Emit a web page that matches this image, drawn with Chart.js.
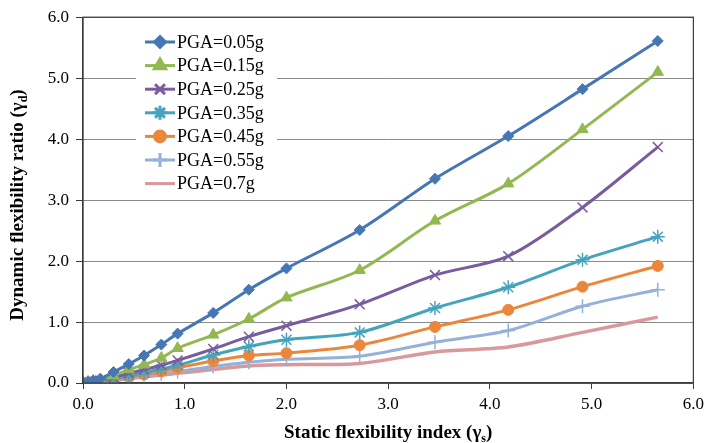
<!DOCTYPE html>
<html>
<head>
<meta charset="utf-8">
<script src="https://cdn.jsdelivr.net/npm/chart.js@4/dist/chart.umd.min.js"></script>
<style>
  body { margin: 0; background: #fff; }
  #box { width: 709px; height: 443px; position: relative; }
</style>
</head>
<body>
<div id="box"><canvas id="grafico"></canvas></div>
<script>
// indice de flexibilidade estatica (eixo x)
const indiceEstatico = [0, 0.05, 0.1, 0.17, 0.3, 0.45, 0.6, 0.77, 0.93, 1.28, 1.63, 2.0, 2.72, 3.46, 4.18, 4.91, 5.65];

// razao de flexibilidade dinamica por PGA
const pga005 = [0, 0.02, 0.04, 0.07, 0.18, 0.31, 0.45, 0.63, 0.81, 1.15, 1.53, 1.88, 2.51, 3.35, 4.05, 4.82, 5.61];
const pga015 = [0, 0.01, 0.03, 0.05, 0.12, 0.22, 0.3, 0.41, 0.57, 0.79, 1.05, 1.4, 1.85, 2.66, 3.27, 4.16, 5.1];
const pga025 = [0, 0.01, 0.02, 0.04, 0.09, 0.16, 0.22, 0.29, 0.37, 0.56, 0.76, 0.94, 1.29, 1.77, 2.08, 2.88, 3.87];
const pga035 = [0, 0.01, 0.02, 0.03, 0.07, 0.12, 0.17, 0.23, 0.29, 0.46, 0.6, 0.71, 0.83, 1.23, 1.57, 2.02, 2.4];
const pga045 = [0, 0.01, 0.02, 0.03, 0.06, 0.1, 0.14, 0.19, 0.25, 0.36, 0.45, 0.49, 0.62, 0.92, 1.2, 1.58, 1.92];
const pga055 = [0, 0, 0.01, 0.02, 0.05, 0.08, 0.11, 0.15, 0.19, 0.27, 0.34, 0.39, 0.44, 0.67, 0.86, 1.26, 1.53];
const pga070 = [0, 0, 0.01, 0.02, 0.04, 0.07, 0.1, 0.13, 0.16, 0.22, 0.28, 0.3, 0.32, 0.51, 0.59, 0.83, 1.08];

const rotulos = ['PGA=0.05g', 'PGA=0.15g', 'PGA=0.25g', 'PGA=0.35g', 'PGA=0.45g', 'PGA=0.55g', 'PGA=0.7g'];
const valoresEixo = [0, 1, 2, 3, 4, 5, 6];

const cores = ['#4677B4', '#93B84F', '#7A5C9E', '#45A4BD', '#EB873D', '#95B0D9', '#D9999A'];
const estilos = ['rectRot', 'triangle', 'crossRot', 'star', 'circle', 'cross', false];
const raios = [5.5, 6.5, 7, 7, 5.5, 7, 0];

const series = [pga005, pga015, pga025, pga035, pga045, pga055, pga070];

function montarSerie(valores, i) {
    const cruz = estilos[i] === 'crossRot' || estilos[i] === 'star' || estilos[i] === 'cross';
    return {
        label: rotulos[i],
        data: valores.map((v, k) => ({ x: indiceEstatico[k], y: v })),
        borderColor: cores[i],
        backgroundColor: cores[i],
        borderWidth: i === 6 ? 3.5 : 3,
        pointStyle: estilos[i],
        pointRadius: raios[i],
        pointBorderWidth: cruz ? 1.5 : 1,
        pointBorderColor: cores[i],
        pointBackgroundColor: cores[i],
        tension: 0.3,
        fill: false
    };
}

const fonte = "'Liberation Serif', 'Times New Roman', serif";

// moldura, legenda e titulos dos eixos
const extras = {
    id: 'extras',
    afterDraw(chart) {
        const ctx = chart.ctx;
        const a = chart.chartArea;
        ctx.save();
        ctx.strokeStyle = '#3a3a3a';
        ctx.lineWidth = 1.2;
        ctx.strokeRect(a.left, a.top, a.right - a.left, a.bottom - a.top);

        // legenda
        ctx.fillStyle = '#ffffff';
        ctx.fillRect(136, 32, 141, 162);
        const linhaY0 = 42, passo = 23.6;
        rotulos.forEach((txt, i) => {
            const y = linhaY0 + passo * i;
            ctx.strokeStyle = cores[i];
            ctx.fillStyle = cores[i];
            ctx.lineWidth = 3;
            ctx.beginPath();
            ctx.moveTo(145, y);
            ctx.lineTo(175, y);
            ctx.stroke();
            if (estilos[i]) {
                const cruz = estilos[i] === 'crossRot' || estilos[i] === 'star' || estilos[i] === 'cross';
                Chart.helpers.drawPoint(ctx, {
                    pointStyle: estilos[i],
                    radius: raios[i],
                    rotation: 0,
                    borderWidth: cruz ? 1.5 : 1
                }, 160, y);
            }
            ctx.fillStyle = '#000';
            ctx.font = '18px ' + fonte;
            ctx.textBaseline = 'middle';
            ctx.textAlign = 'left';
            ctx.fillText(txt, 177, y + 1);
        });

        // titulos dos eixos com subscrito
        ctx.fillStyle = '#000';
        ctx.textBaseline = 'alphabetic';
        const fb = 'bold 19px ' + fonte;
        const fs = 'bold 12px ' + fonte;
        function tituloComSub(base, sub, fim) {
            ctx.font = fb;
            const w1 = ctx.measureText(base).width;
            const w3 = ctx.measureText(fim).width;
            ctx.font = fs;
            const w2 = ctx.measureText(sub).width;
            let x = -(w1 + w2 + w3) / 2;
            ctx.font = fb;
            ctx.fillText(base, x, 0);
            x += w1;
            ctx.font = fs;
            ctx.fillText(sub, x, 4);
            x += w2;
            ctx.font = fb;
            ctx.fillText(fim, x, 0);
        }
        ctx.save();
        ctx.translate((a.left + a.right) / 2, 438);
        tituloComSub('Static flexibility index (\u03b3', 's', ')');
        ctx.restore();

        ctx.save();
        ctx.translate(23, 205);
        ctx.rotate(-Math.PI / 2);
        tituloComSub('Dynamic flexibility ratio (\u03b3', 'd', ')');
        ctx.restore();
        ctx.restore();
    }
};

const grafico = new Chart(document.getElementById('grafico'), {
    type: 'scatter',
    data: {
        datasets: series.map(montarSerie)
    },
    options: {
        responsive: true,
        maintainAspectRatio: false,
        animation: false,
        showLine: true,
        layout: { padding: { left: 0, right: 12, top: 16, bottom: 0 } },
        plugins: {
            legend: { display: false },
            tooltip: { enabled: false }
        },
        scales: {
            x: {
                type: 'linear',
                min: 0,
                max: 6,
                afterBuildTicks: s => { s.ticks = valoresEixo.map(v => ({ value: v })); },
                afterFit: s => { s.height = 60; },
                ticks: {
                    callback: v => v.toFixed(1),
                    color: '#000',
                    font: { family: fonte, size: 17 },
                    padding: 5,
                    maxRotation: 0
                },
                grid: {
                    drawOnChartArea: false,
                    drawTicks: true,
                    tickLength: 6,
                    color: '#3a3a3a'
                },
                border: { color: '#3a3a3a', width: 1.2 }
            },
            y: {
                type: 'linear',
                min: 0,
                max: 6,
                afterBuildTicks: s => { s.ticks = valoresEixo.map(v => ({ value: v })); },
                afterFit: s => { s.width = 83; },
                ticks: {
                    callback: v => v.toFixed(1),
                    color: '#000',
                    font: { family: fonte, size: 17 },
                    padding: 7
                },
                grid: {
                    color: '#8a8a8a',
                    lineWidth: 1,
                    drawTicks: true,
                    tickLength: 7,
                    tickColor: '#3a3a3a'
                },
                border: { color: '#3a3a3a', width: 1.2 }
            }
        }
    },
    plugins: [extras]
});
</script>
</body>
</html>
